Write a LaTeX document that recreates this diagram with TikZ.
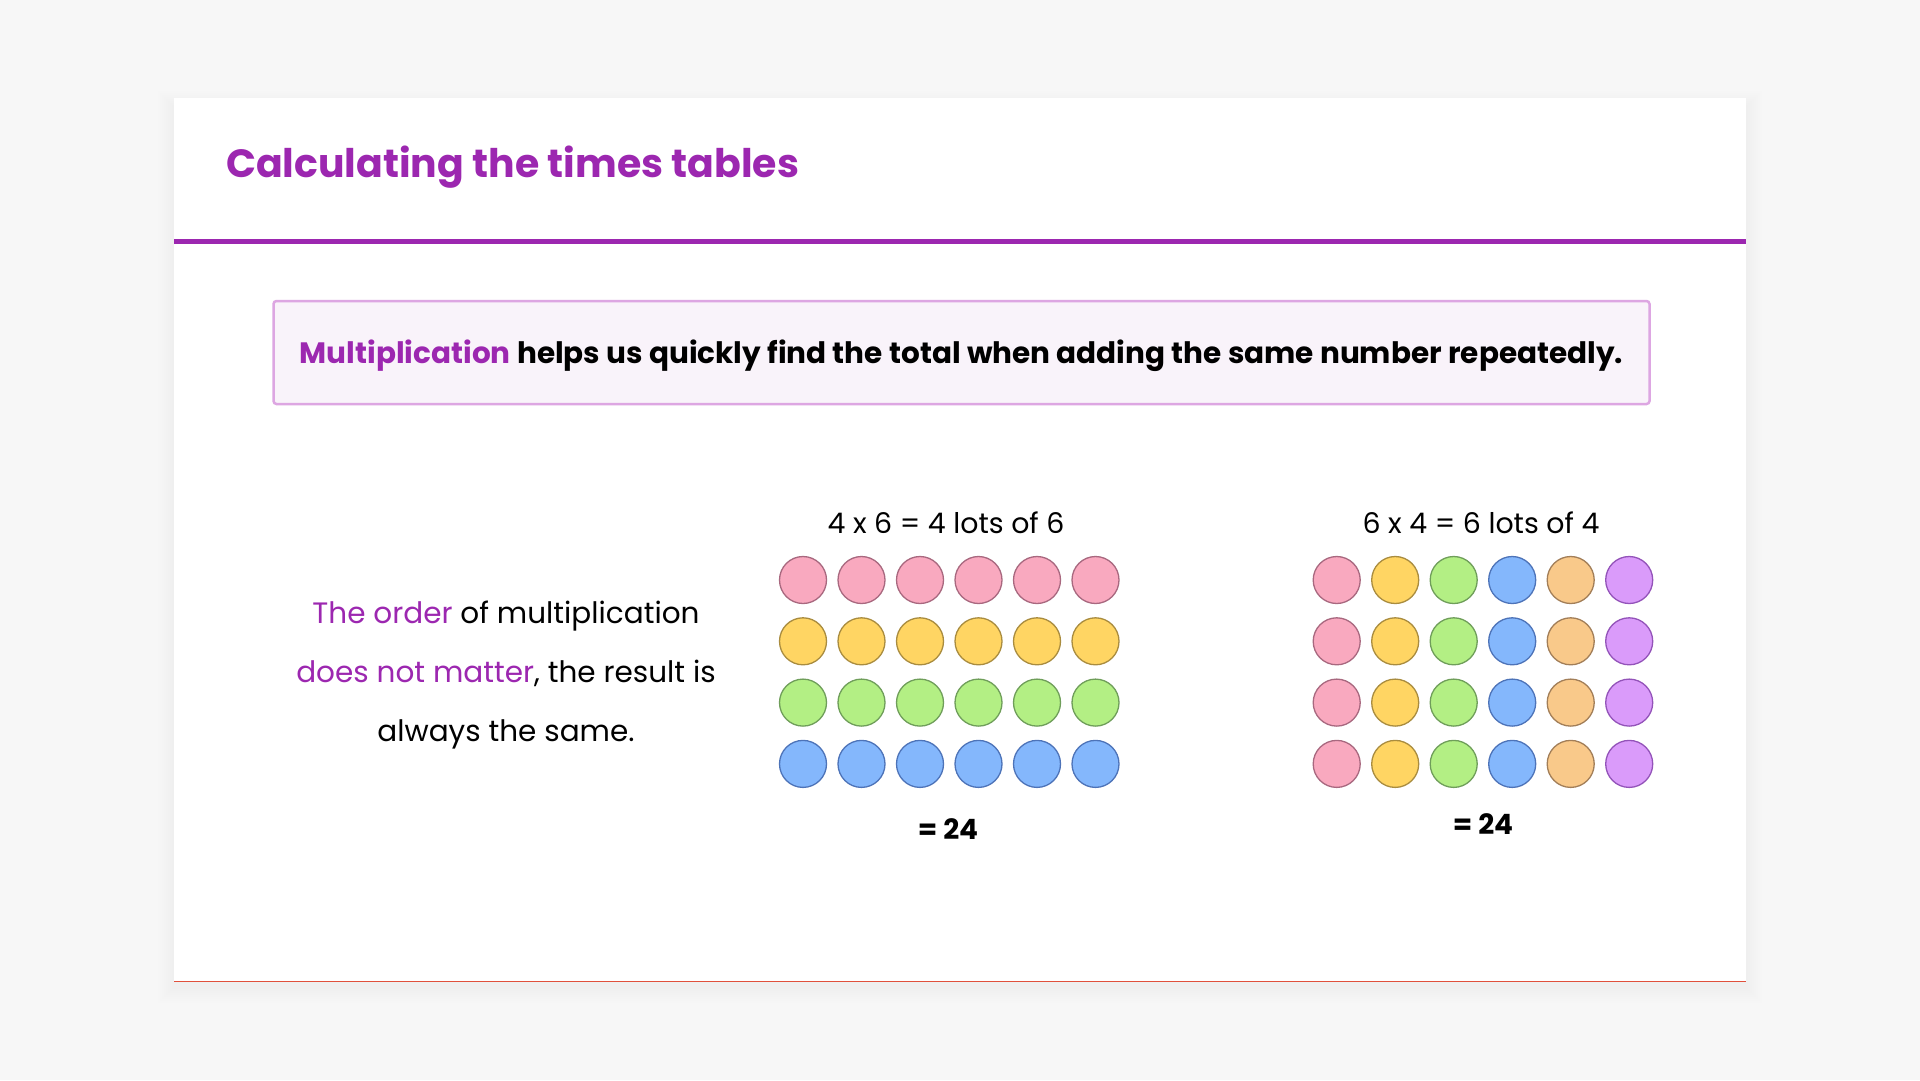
\documentclass[tikz,border=0pt]{standalone}
\usepackage{fontspec}
\setmainfont{Poppins}
\usetikzlibrary{positioning}
\usepackage{xcolor}

\definecolor{pagebg}{HTML}{F7F7F7}
\definecolor{accent}{HTML}{9C27B0}
\definecolor{boxline}{HTML}{DDA6E2}
\definecolor{boxfill}{HTML}{F9F3FA}
\definecolor{cardedge}{HTML}{E0503C}
\definecolor{pinkfill}{HTML}{F9A9BF}
\definecolor{pinkline}{HTML}{A8687F}
\definecolor{yellowfill}{HTML}{FFD563}
\definecolor{yellowline}{HTML}{A98C3F}
\definecolor{greenfill}{HTML}{B3EF84}
\definecolor{greenline}{HTML}{6F9E5A}
\definecolor{bluefill}{HTML}{84B7FC}
\definecolor{blueline}{HTML}{4D73B8}
\definecolor{orangefill}{HTML}{F9C98A}
\definecolor{orangeline}{HTML}{A27E58}
\definecolor{purplefill}{HTML}{DA9BFA}
\definecolor{purpleline}{HTML}{9353B9}

\begin{document}
\begin{tikzpicture}[
    x=1pt, y=-1pt,
    every node/.style={inner sep=0pt},
    dot/.style={circle, fill=#1fill, draw=#1line, line width=1.3pt, minimum size=47pt},
    heading/.style={font=\fontsize{28.4}{32}\selectfont},
    total/.style={font=\fontsize{28}{32}\selectfont\bfseries}
]

% page and card
\fill[pagebg] (0,0) rectangle (1920,1080);
\useasboundingbox (0,0) rectangle (1920,1080);
\foreach \s in {2,4,...,16}
    \fill[black, opacity=0.005] (174-\s,98-\s+9) rectangle (1746+\s,981+\s+6);
\node[fill=white, minimum width=1572pt, minimum height=883pt, anchor=north west] (card) at (174,98) {};
\draw[cardedge, line width=1pt] (card.south west) -- (card.south east);

% title and rule
\node[anchor=base west, text=accent, font=\fontsize{39.4}{46}\selectfont\bfseries] (title) at (226,177) {Calculating the times tables};
\draw[accent, line width=5pt] (174,241) -- (1746,241);

% definition box
\node[draw=boxline, fill=boxfill, line width=2.5pt, rounded corners=3pt, minimum width=1376pt, minimum height=103pt, text height=24pt, text depth=3pt, font=\fontsize{29.5}{34}\selectfont\bfseries] (intro) at (961.5,352.5) {\textcolor{accent}{Multiplication} helps us quickly find the total when adding the same number repeatedly.};

% left text
\node[align=center, font=\fontsize{29.5}{59}\selectfont] (order) at (506,675) {\textcolor{accent}{The order} of multiplication\\\textcolor{accent}{does not matter}, the result is\\always the same.};

% 4 lots of 6
\node[heading] (headA) at (946,523) {4 x 6 = 4 lots of 6};
\foreach \c [count=\i] in {pink, yellow, green, blue}
    \foreach \j in {1,...,6}
        \node[dot=\c] (a-\i-\j) at ({803+58.5*(\j-1)}, {580+61.3*(\i-1)}) {};
\node[total] (totalA) at (948,829) {= 24};

% 6 lots of 4
\node[heading] (headB) at (1481,523) {6 x 4 = 6 lots of 4};
\foreach \c [count=\j] in {pink, yellow, green, blue, orange, purple}
    \foreach \i in {1,...,4}
        \node[dot=\c] (b-\i-\j) at ({1336.7+58.5*(\j-1)}, {580+61.3*(\i-1)}) {};
\node[total] (totalB) at (1483,824) {= 24};

\end{tikzpicture}
\end{document}
